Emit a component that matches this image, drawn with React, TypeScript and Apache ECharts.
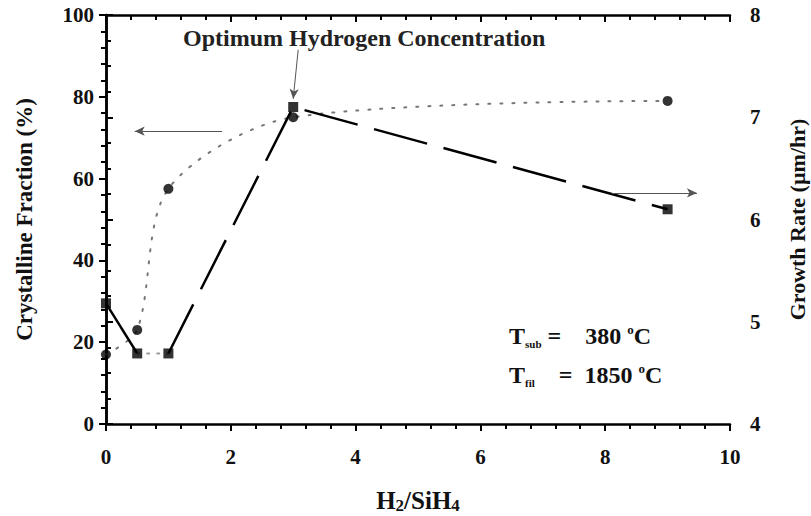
import React, { useEffect, useRef } from "react";
import * as echarts from "echarts";

// H2/SiH4 ratio
const ratio = [0, 0.5, 1, 3, 9];
// Crystalline fraction (%) — left axis, circles
const crystalFraction = [17, 23, 57.5, 75, 79];
// Growth rate (µm/hr) — right axis, squares
const growthRate = [5.18, 4.69, 4.69, 7.1, 6.1];

// annotation arrows (data coordinates)
const leftArrow = [[1.86, 71.6], [0.46, 71.6]]; // points to left axis
const rightArrow = [[8.11, 6.26], [9.47, 6.26]]; // points to right axis (growth units)
const optimumArrow = [[3.08, 91.5], [3.0, 79.5]];

const titleText = "Optimum Hydrogen Concentration";
const FONT = "'Liberation Serif', 'Times New Roman', serif";

const pairs = (xs: number[], ys: number[]) => xs.map((x, i) => [x, ys[i]]);

export default function App() {
  const ref = useRef<HTMLDivElement>(null);
  useEffect(() => {
    if (!ref.current) return;
    const chart = echarts.init(ref.current, undefined, { renderer: "svg" });
    const axisLine = { show: true, lineStyle: { color: "#000", width: 2.5 } };
    const labelStyle = { color: "#111", fontFamily: FONT, fontWeight: "bold" as const, fontSize: 21 };
    const growthPts = pairs(ratio, growthRate);
    const crystalPts = pairs(ratio, crystalFraction);
    const arrowLine = (pts: number[][]) => [[{ coord: pts[0] }, { coord: pts[1] }]];
    const tRich = {
      t: { fontFamily: FONT, fontWeight: "bold", fontSize: 24, fill: "#111", lineHeight: 26, verticalAlign: "middle" },
      s: { fontFamily: FONT, fontWeight: "bold", fontSize: 11, fill: "#111", lineHeight: 10, verticalAlign: "bottom" },
      o: { fontFamily: FONT, fontWeight: "bold", fontSize: 13, fill: "#111", lineHeight: 14, verticalAlign: "top" },
    };
    chart.setOption({
      animation: false,
      backgroundColor: "#fff",
      grid: { left: 106, right: 81, top: 15, bottom: 92, outerBoundsMode: "none" },
      xAxis: [
        {
          type: "value",
          min: 0,
          max: 10,
          interval: 2,
          position: "bottom",
          axisLine,
          axisTick: { show: true, length: 7, lineStyle: { color: "#000", width: 2 } },
          minorTick: { show: true, splitNumber: 5, length: 5, lineStyle: { color: "#000", width: 2 } },
          splitLine: { show: false },
          axisLabel: { ...labelStyle, margin: 22 },
          name: "{a|H}{s|2}{a|/SiH}{s|4}",
          nameLocation: "middle",
          nameGap: 62,
          nameTextStyle: {
            rich: {
              a: { fontFamily: FONT, fontWeight: "bold", fontSize: 25, color: "#111", lineHeight: 28, verticalAlign: "middle" },
              s: { fontFamily: FONT, fontWeight: "bold", fontSize: 17, color: "#111", lineHeight: 12, verticalAlign: "bottom" },
            },
          },
        },
        {
          type: "value",
          min: 0,
          max: 10,
          interval: 2,
          position: "top",
          axisLine,
          axisTick: { show: true, inside: true, length: 7, lineStyle: { color: "#000", width: 2 } },
          minorTick: { show: true, splitNumber: 5, length: 5, lineStyle: { color: "#000", width: 2 } },
          splitLine: { show: false },
          axisLabel: { show: false },
        },
      ],
      yAxis: [
        {
          type: "value",
          min: 0,
          max: 100,
          interval: 20,
          position: "left",
          axisLine,
          axisTick: { show: true, length: 7, lineStyle: { color: "#000", width: 2 } },
          minorTick: { show: true, splitNumber: 5, length: 5, lineStyle: { color: "#000", width: 2 } },
          splitLine: { show: false },
          axisLabel: { ...labelStyle, margin: 12 },
          name: "Crystalline Fraction (%)",
          nameLocation: "middle",
          nameGap: 70,
          nameRotate: 90,
          nameTextStyle: { fontFamily: FONT, fontWeight: "bold", fontSize: 23, color: "#111" },
        },
        {
          type: "value",
          min: 4,
          max: 8,
          interval: 1,
          position: "right",
          axisLine,
          axisTick: { show: true, length: 7, lineStyle: { color: "#000", width: 2 } },
          minorTick: { show: true, splitNumber: 4, length: 5, lineStyle: { color: "#000", width: 2 } },
          splitLine: { show: false },
          axisLabel: { ...labelStyle, margin: 20 },
          name: "Growth Rate (µm/hr)",
          nameLocation: "middle",
          nameGap: 56,
          nameRotate: 90,
          nameTextStyle: { fontFamily: FONT, fontWeight: "bold", fontSize: 22, color: "#111" },
        },
      ],
      series: [
        {
          type: "line",
          data: crystalPts,
          smooth: 0.3,
          symbol: "none",
          lineStyle: { color: "#777", width: 2, type: [2, 10], cap: "round" },
          z: 2,
        },
        {
          type: "scatter",
          data: crystalPts,
          symbol: "circle",
          symbolSize: 10,
          itemStyle: { color: "#000" },
          z: 5,
          markLine: {
            silent: true,
            symbol: ["none", "arrow"],
            symbolSize: [7, 10],
            label: { show: false },
            lineStyle: { color: "#555", width: 1, type: "solid" },
            data: [...arrowLine(leftArrow), ...arrowLine(optimumArrow)],
          },
        },
        {
          type: "line",
          yAxisIndex: 1,
          data: growthPts.slice(0, 2),
          symbol: "none",
          lineStyle: { color: "#000", width: 2.5, type: "solid" },
          z: 3,
        },
        {
          type: "line",
          yAxisIndex: 1,
          data: growthPts.slice(1, 3),
          symbol: "none",
          lineStyle: { color: "#999", width: 2, type: [2, 8], cap: "round" },
          z: 3,
        },
        {
          type: "line",
          yAxisIndex: 1,
          data: growthPts.slice(2),
          symbol: "none",
          lineStyle: { color: "#000", width: 2.5, type: [55, 17] },
          z: 3,
        },
        {
          type: "scatter",
          yAxisIndex: 1,
          data: growthPts,
          symbol: "rect",
          symbolSize: 10,
          itemStyle: { color: "#000" },
          z: 6,
          markLine: {
            silent: true,
            symbol: ["none", "arrow"],
            symbolSize: [7, 10],
            label: { show: false },
            lineStyle: { color: "#555", width: 1, type: "solid" },
            data: arrowLine(rightArrow),
          },
        },
      ],
      graphic: [
        {
          type: "text",
          left: 183,
          top: 26,
          style: { text: titleText, fontFamily: FONT, fontWeight: "bold", fontSize: 24, fill: "#222" },
        },
        {
          type: "text",
          left: 509,
          top: 323,
          style: { text: "{t|T}{s|sub}{t| =    380 }{o|o}{t|C}", rich: tRich },
        },
        {
          type: "text",
          left: 509,
          top: 362,
          style: { text: "{t|T}{s|fil}{t|    =  1850 }{o|o}{t|C}", rich: tRich },
        },
      ],
    });
    return () => chart.dispose();
  }, []);
  return <div ref={ref} style={{ position: "absolute", left: 0, top: 0, width: 811, height: 516 }} />;
}
